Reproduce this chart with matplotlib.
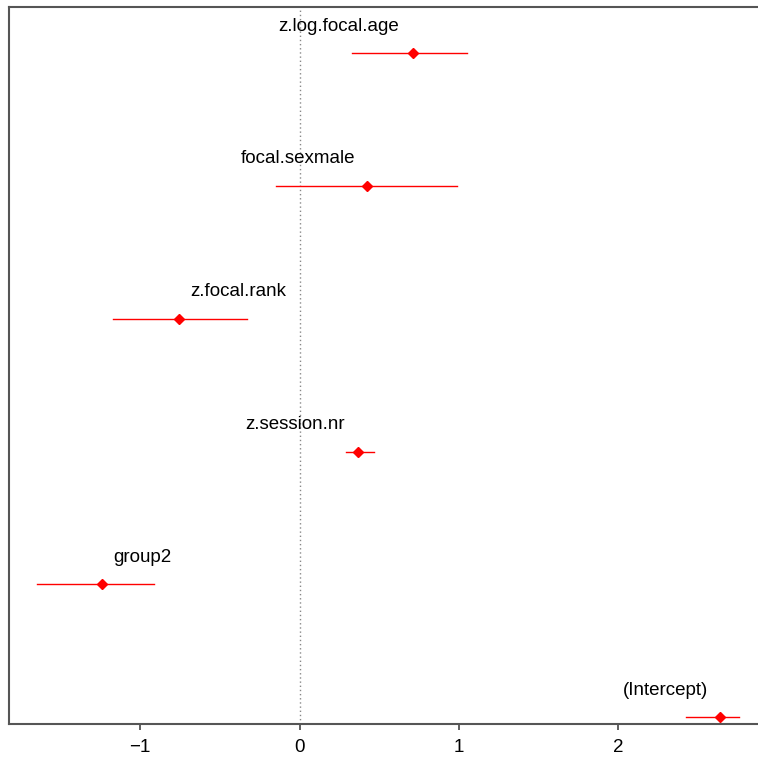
import matplotlib
matplotlib.use("Agg")
import matplotlib.pyplot as plt

terms = ["z.log.focal.age", "focal.sexmale", "z.focal.rank", "z.session.nr", "group2", "(Intercept)"]
estimate = [0.710, 0.423, -0.756, 0.369, -1.241, 2.640]
ci_low = [0.331, -0.147, -1.168, 0.292, -1.649, 2.425]
ci_high = [1.049, 0.988, -0.331, 0.467, -0.913, 2.759]
label_x = [0.248, -0.008, -0.384, -0.028, -0.988, 2.293]
ypos = [6, 5, 4, 3, 2, 1]
xticks = [-1, 0, 1, 2]
xtick_labels = ["\u22121", "0", "1", "2"]

plt.rcParams['font.family'] = ['Liberation Sans', 'DejaVu Sans']

W, H = 758, 760
left_px, right_px = 8.5, 778.0
x_left, unit = -1.826, 159.4
x_right = x_left + (right_px - left_px) / unit

fig = plt.figure(figsize=(W / 100, H / 100), dpi=100)
ax = fig.add_axes([left_px / W, 36.5 / H, (right_px - left_px) / W, (723.5 - 6.5) / H])

ax.axvline(0, color="#888888", linestyle=(0, (1, 2)), linewidth=1.0, zorder=1)
for y, est, lo, hi, lab, lx in zip(ypos, estimate, ci_low, ci_high, terms, label_x):
    ax.plot([lo, hi], [y, y], color="red", linewidth=1.0, zorder=2)
    ax.plot([est], [y], marker="D", color="red", markersize=5, zorder=3)
    ax.text(lx, y + 0.205, lab, ha="center", va="center", fontsize=13.5, color="black")

ax.set_xlim(x_left, x_right)
ax.set_ylim(0.953, 6.352)
ax.set_yticks([])
ax.set_xticks(xticks)
ax.set_xticklabels(xtick_labels, fontsize=13.5)
ax.tick_params(axis="x", direction="out", length=4, width=1.2, color="#444444", pad=7)
for s in ["left", "top", "bottom"]:
    ax.spines[s].set_color("#555555")
    ax.spines[s].set_linewidth(1.5)
ax.spines["right"].set_visible(False)

fig.savefig("out.png", dpi=100)
